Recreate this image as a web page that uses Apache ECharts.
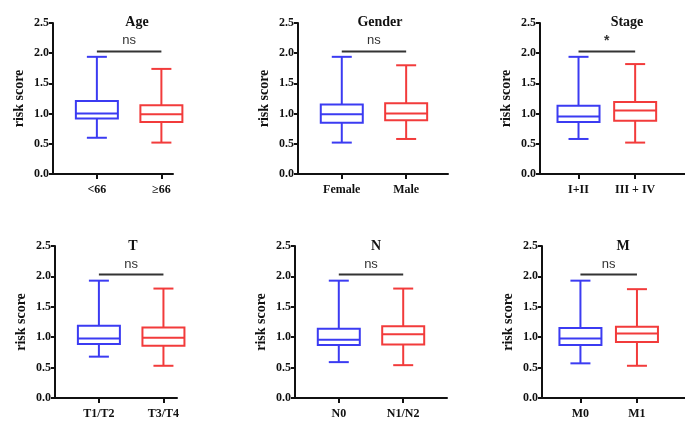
<!DOCTYPE html>
<html><head><meta charset="utf-8">
<script src="https://cdn.jsdelivr.net/npm/echarts@6/dist/echarts.min.js"></script>
<style>html,body{margin:0;padding:0;background:#fff}#c{width:685px;height:428px}</style>
</head><body><div id="c"></div>
<script>
const panelTitles = ['Age', 'Gender', 'Stage', 'T', 'N', 'M'];
const groupLabels = [
  ['<66', '≥66'],
  ['Female', 'Male'],
  ['I+II', 'III + IV'],
  ['T1/T2', 'T3/T4'],
  ['N0', 'N1/N2'],
  ['M0', 'M1']
];
// [min, Q1, median, Q3, max]
const blueStats = [
  [0.60, 0.92, 1.00, 1.21, 1.94],
  [0.52, 0.85, 0.99, 1.15, 1.94],
  [0.58, 0.86, 0.95, 1.13, 1.94],
  [0.68, 0.89, 0.98, 1.19, 1.93],
  [0.59, 0.87, 0.96, 1.14, 1.93],
  [0.57, 0.87, 0.98, 1.15, 1.93]
];
const redStats = [
  [0.52, 0.86, 0.99, 1.14, 1.74],
  [0.58, 0.89, 1.00, 1.17, 1.80],
  [0.52, 0.88, 1.05, 1.19, 1.82],
  [0.53, 0.86, 0.99, 1.16, 1.80],
  [0.54, 0.88, 1.05, 1.18, 1.80],
  [0.53, 0.92, 1.06, 1.17, 1.79]
];
const sigLabels = ['ns', 'ns', '*', 'ns', 'ns', 'ns'];
const sigLevel = 2.03;
const yTickValues = [0, 0.5, 1.0, 1.5, 2.0, 2.5];

const BLUE = '#3b3bf2';
const RED = '#f23b3b';
const SERIF = '"Liberation Serif","Times New Roman",serif';
const SANS = '"Liberation Sans",Arial,sans-serif';

const layout = [
  {left: 53, width: 120, top: 23, height: 151, xmax: 2.18, tx: 132, ty: 10},
  {left: 298, width: 150, top: 23, height: 151, xmax: 2.65, tx: 375, ty: 10},
  {left: 540, width: 165, top: 23, height: 151, xmax: 2.88, tx: 622, ty: 10},
  {left: 55, width: 122, top: 246, height: 152, xmax: 2.21, tx: 128, ty: 234},
  {left: 295, width: 152, top: 246, height: 152, xmax: 2.68, tx: 371, ty: 234},
  {left: 542, width: 163, top: 246, height: 152, xmax: 2.85, tx: 618, ty: 234}
];

const grids = [], xAxes = [], yAxes = [], series = [], titles = [];

function boxRender(params, api) {
  const x = api.value(0);
  const vmin = api.coord([x, api.value(1)]);
  const q1 = api.coord([x, api.value(2)]);
  const med = api.coord([x, api.value(3)]);
  const q3 = api.coord([x, api.value(4)]);
  const vmax = api.coord([x, api.value(5)]);
  const color = api.visual('color');
  const hw = 21, cw = 10;
  const st = {stroke: color, lineWidth: 2, fill: null};
  const cx = vmin[0];
  return {
    type: 'group',
    children: [
      {type: 'line', shape: {x1: cx, y1: vmax[1], x2: cx, y2: q3[1]}, style: st},
      {type: 'line', shape: {x1: cx, y1: q1[1], x2: cx, y2: vmin[1]}, style: st},
      {type: 'line', shape: {x1: cx - cw, y1: vmax[1], x2: cx + cw, y2: vmax[1]}, style: st},
      {type: 'line', shape: {x1: cx - cw, y1: vmin[1], x2: cx + cw, y2: vmin[1]}, style: st},
      {type: 'rect', shape: {x: cx - hw, y: q3[1], width: 2 * hw, height: q1[1] - q3[1]}, style: {stroke: color, lineWidth: 2, fill: 'rgba(0,0,0,0)'}},
      {type: 'line', shape: {x1: cx - hw, y1: med[1], x2: cx + hw, y2: med[1]}, style: st}
    ]
  };
}

function sigRender(params, api) {
  const y = api.value(2);
  const p1 = api.coord([api.value(0), y]);
  const p2 = api.coord([api.value(1), y]);
  const label = sigLabels[params.seriesIndex / 3 | 0];
  return {
    type: 'group',
    children: [
      {type: 'line', shape: {x1: p1[0], y1: p1[1], x2: p2[0], y2: p2[1]}, style: {stroke: '#333', lineWidth: 2}},
      {type: 'text', x: (p1[0] + p2[0]) / 2, y: p1[1] - (label === '*' ? 3 : 4),
       style: {text: label, fill: '#333', font: (label === '*' ? 'bold 14px ' : '13px ') + SANS, align: 'center', verticalAlign: 'bottom'}}
    ]
  };
}

layout.forEach((L, i) => {
  grids.push({left: L.left, width: L.width, top: L.top, height: L.height, containLabel: false});
  const labels = groupLabels[i];
  xAxes.push({
    type: 'value', gridIndex: i, min: 0.32, max: L.xmax,
    axisLine: {show: true, onZero: false, lineStyle: {color: '#111', width: 2}},
    axisTick: {show: true, customValues: [1, 2], length: 5, lineStyle: {color: '#111', width: 2}},
    axisLabel: {show: true, customValues: [1, 2], margin: 10,
      formatter: v => labels[Math.round(v) - 1],
      fontFamily: SERIF, fontWeight: 'bold', fontSize: 12, color: '#111'},
    splitLine: {show: false}
  });
  yAxes.push({
    type: 'value', gridIndex: i, min: 0, max: 2.5, interval: 0.5,
    name: 'risk score', nameLocation: 'middle', nameRotate: 90, nameGap: 27,
    nameTextStyle: {fontFamily: SERIF, fontWeight: 'bold', fontSize: 14, color: '#111'},
    axisLine: {show: true, lineStyle: {color: '#111', width: 2}},
    axisTick: {show: true, length: 4, lineStyle: {color: '#111', width: 2}},
    axisLabel: {margin: 4, formatter: v => v.toFixed(1), fontFamily: SERIF, fontWeight: 'bold', fontSize: 12, color: '#111',
      customValues: yTickValues},
    splitLine: {show: false}
  });
  series.push({
    type: 'custom', xAxisIndex: i, yAxisIndex: i, renderItem: boxRender, itemStyle: {color: BLUE},
    encode: {x: 0, y: [1, 2, 3, 4, 5]}, data: [[1].concat(blueStats[i])], silent: true
  });
  series.push({
    type: 'custom', xAxisIndex: i, yAxisIndex: i, renderItem: boxRender, itemStyle: {color: RED},
    encode: {x: 0, y: [1, 2, 3, 4, 5]}, data: [[2].concat(redStats[i])], silent: true
  });
  series.push({
    type: 'custom', xAxisIndex: i, yAxisIndex: i, renderItem: sigRender,
    encode: {x: [0, 1], y: 2}, data: [[1, 2, sigLevel]], silent: true, clip: false
  });
  titles.push({text: panelTitles[i], left: L.tx, top: L.ty, textAlign: 'center',
    textStyle: {fontFamily: SERIF, fontWeight: 'bold', fontSize: 14, color: '#111'}});
});

const chart = echarts.init(document.getElementById('c'), null, {renderer: 'canvas'});
chart.setOption({
  animation: false,
  backgroundColor: '#fff',
  title: titles,
  grid: grids,
  xAxis: xAxes,
  yAxis: yAxes,
  series: series
});
</script></body></html>
